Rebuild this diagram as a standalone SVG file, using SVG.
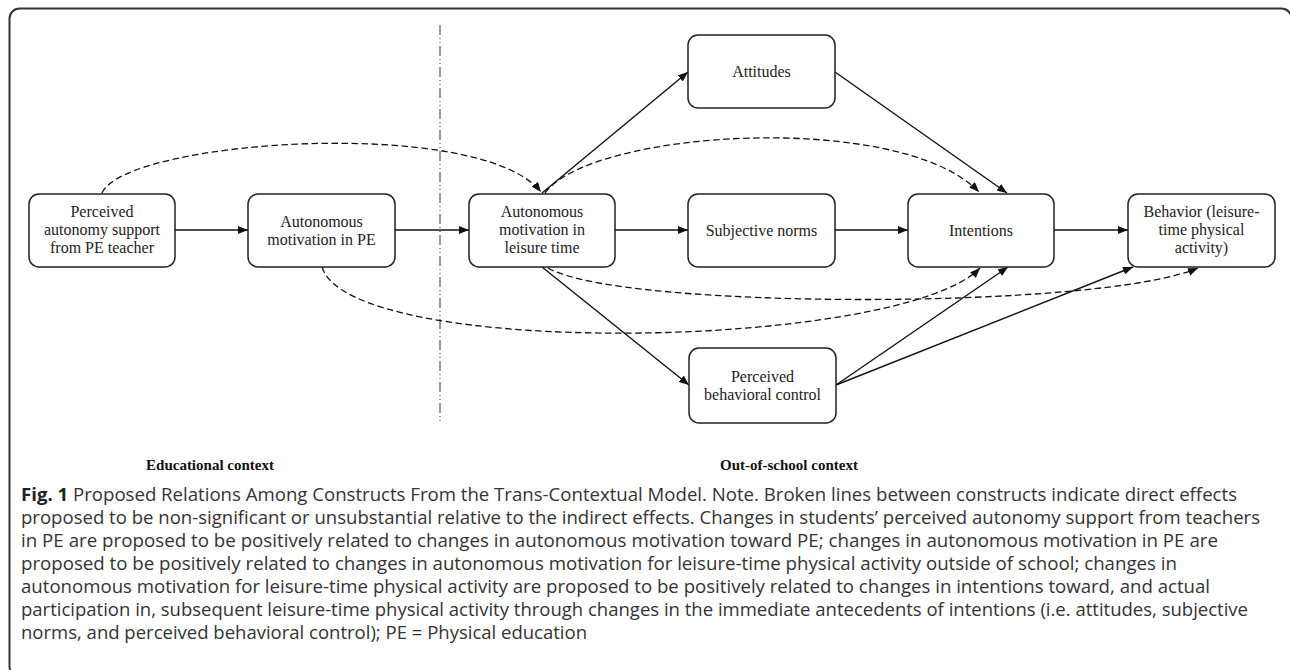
<svg xmlns="http://www.w3.org/2000/svg" width="1290" height="670" viewBox="0 0 1290 670">
<style>
.box{fill:#fff;stroke:#222;stroke-width:1.5}
.nt{font-family:"Liberation Serif","Times New Roman",serif;font-size:16px;fill:#222;text-anchor:middle}
.ctx{font-family:"Liberation Serif","Times New Roman",serif;font-size:15px;font-weight:bold;fill:#111;text-anchor:middle}
.cap{font-family:"Open Sans","Noto Sans",sans-serif;font-size:18.5px;fill:#333}
.solid{fill:none;stroke:#111;stroke-width:1.4}
.dash{fill:none;stroke:#111;stroke-width:1.3;stroke-dasharray:6.5 3.5}
</style>
<defs>
<marker id="ah" markerUnits="userSpaceOnUse" markerWidth="10" markerHeight="8" refX="10" refY="4" orient="auto">
<path d="M0,0 L10,4 L0,8 z" fill="#111"/>
</marker>
</defs>
<rect x="9.5" y="8.5" width="1282" height="668" rx="10" fill="none" stroke="#333" stroke-width="2"/>
<line x1="440" y1="25" x2="440" y2="422" stroke="#333" stroke-width="1" stroke-dasharray="10 3 1 3 1 3"/>
<g id="connectors">
<path class="dash" d="M102,193 C125,140 480,115 541,192" marker-end="url(#ah)"/>
<path class="dash" d="M545,193 C590,130 900,110 979,192" marker-end="url(#ah)"/>
<path class="dash" d="M322,267 C350,360 900,350 980,268" marker-end="url(#ah)"/>
<path class="dash" d="M548,268 C620,310 1100,310 1198,268" marker-end="url(#ah)"/>
<line class="solid" x1="175" y1="230" x2="248" y2="230" marker-end="url(#ah)"/>
<line class="solid" x1="395" y1="230" x2="469" y2="230" marker-end="url(#ah)"/>
<line class="solid" x1="542" y1="193" x2="688" y2="72" marker-end="url(#ah)"/>
<line class="solid" x1="615" y1="230" x2="688" y2="230" marker-end="url(#ah)"/>
<line class="solid" x1="542" y1="267" x2="689" y2="385" marker-end="url(#ah)"/>
<line class="solid" x1="835" y1="72" x2="1007" y2="193" marker-end="url(#ah)"/>
<line class="solid" x1="835" y1="230" x2="908" y2="230" marker-end="url(#ah)"/>
<line class="solid" x1="1054" y1="230" x2="1128" y2="230" marker-end="url(#ah)"/>
<line class="solid" x1="836" y1="385" x2="1008" y2="267" marker-end="url(#ah)"/>
<line class="solid" x1="836" y1="385" x2="1133" y2="267" marker-end="url(#ah)"/>
</g>
<g id="n1"><rect class="box" x="29" y="194" width="146" height="73" rx="10"/>
<text class="nt" x="102" y="217">Perceived</text><text class="nt" x="102" y="235">autonomy support</text><text class="nt" x="102" y="253">from PE teacher</text></g>
<g id="n2"><rect class="box" x="248" y="194" width="147" height="73" rx="10"/>
<text class="nt" x="321.5" y="227">Autonomous</text><text class="nt" x="321.5" y="245">motivation in PE</text></g>
<g id="n3"><rect class="box" x="469" y="194" width="146" height="73" rx="10"/>
<text class="nt" x="542" y="217">Autonomous</text><text class="nt" x="542" y="235">motivation in</text><text class="nt" x="542" y="253">leisure time</text></g>
<g id="n4"><rect class="box" x="688" y="35" width="147" height="73" rx="10"/>
<text class="nt" x="761.5" y="77">Attitudes</text></g>
<g id="n5"><rect class="box" x="688" y="194" width="147" height="73" rx="10"/>
<text class="nt" x="761.5" y="236">Subjective norms</text></g>
<g id="n6"><rect class="box" x="908" y="194" width="146" height="73" rx="10"/>
<text class="nt" x="981" y="236">Intentions</text></g>
<g id="n7"><rect class="box" x="1128" y="194" width="147" height="73" rx="10"/>
<text class="nt" x="1201.5" y="217">Behavior (leisure-</text><text class="nt" x="1201.5" y="235">time physical</text><text class="nt" x="1201.5" y="253">activity)</text></g>
<g id="n8"><rect class="box" x="689" y="348" width="147" height="75" rx="10"/>
<text class="nt" x="762.5" y="382">Perceived</text><text class="nt" x="762.5" y="400">behavioral control</text></g>
<g id="labels">
<text class="ctx" x="210" y="470">Educational context</text>
<text class="ctx" x="789" y="470">Out-of-school context</text>
</g>
<g id="caption">
<text class="cap" x="21" y="501" textLength="1216" lengthAdjust="spacingAndGlyphs"><tspan font-weight="bold" fill="#222">Fig. 1</tspan> Proposed Relations Among Constructs From the Trans-Contextual Model. Note. Broken lines between constructs indicate direct effects</text>
<text class="cap" x="21" y="524" textLength="1239" lengthAdjust="spacingAndGlyphs">proposed to be non-significant or unsubstantial relative to the indirect effects. Changes in students’ perceived autonomy support from teachers</text>
<text class="cap" x="21" y="547" textLength="1197" lengthAdjust="spacingAndGlyphs">in PE are proposed to be positively related to changes in autonomous motivation toward PE; changes in autonomous motivation in PE are</text>
<text class="cap" x="21" y="570" textLength="1156" lengthAdjust="spacingAndGlyphs">proposed to be positively related to changes in autonomous motivation for leisure-time physical activity outside of school; changes in</text>
<text class="cap" x="21" y="593" textLength="1189" lengthAdjust="spacingAndGlyphs">autonomous motivation for leisure-time physical activity are proposed to be positively related to changes in intentions toward, and actual</text>
<text class="cap" x="21" y="616" textLength="1227" lengthAdjust="spacingAndGlyphs">participation in, subsequent leisure-time physical activity through changes in the immediate antecedents of intentions (i.e. attitudes, subjective</text>
<text class="cap" x="21" y="639" textLength="566" lengthAdjust="spacingAndGlyphs">norms, and perceived behavioral control); PE = Physical education</text>
</g>
</svg>
